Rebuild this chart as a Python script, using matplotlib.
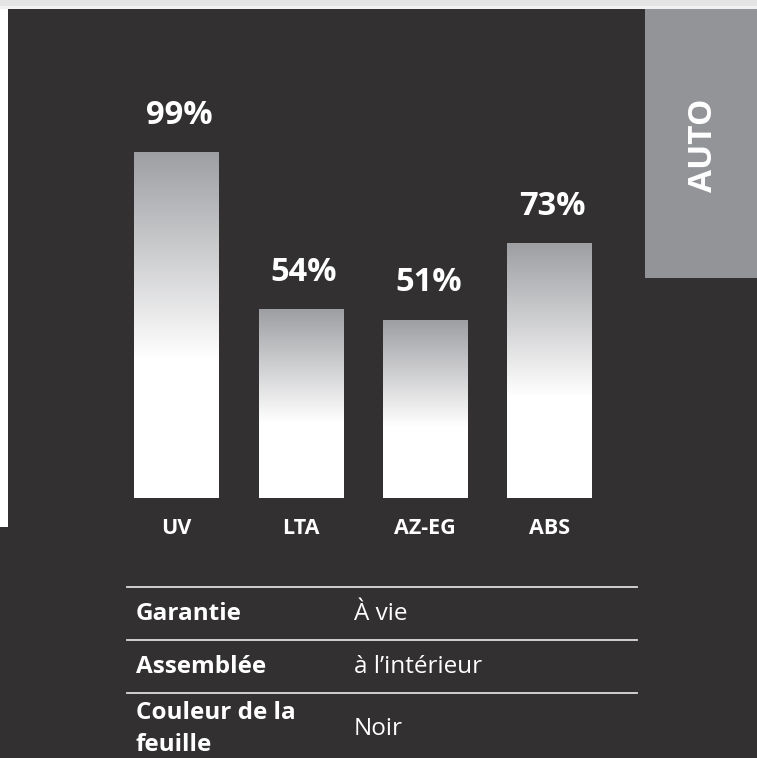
import numpy as np
import matplotlib
matplotlib.use("Agg")
import matplotlib.pyplot as plt
from matplotlib.patches import Rectangle
from matplotlib.lines import Line2D

plt.rcParams['font.family'] = ['Open Sans', 'DejaVu Sans']

categories = ["UV", "LTA", "AZ-EG", "ABS"]
values = [99, 54, 51, 73]
value_labels = ["99%", "54%", "51%", "73%"]
side_label = "AUTO"
table_labels = ["Garantie", "Assemblée", "Couleur de la\nfeuille"]
table_values = ["À vie", "à l’intérieur", "Noir"]

W, H = 757, 758
DARK = "#323031"
fig = plt.figure(figsize=(W / 100, H / 100), dpi=100)
fig.patch.set_facecolor(DARK)

def fx(x):
    return x / W

def fy(y):
    return 1 - y / H

def frect(x0, y0, x1, y1, color, z=0):
    fig.patches.append(Rectangle((fx(x0), fy(y1)), fx(x1) - fx(x0), fy(y0) - fy(y1),
                                 transform=fig.transFigure, facecolor=color,
                                 edgecolor="none", zorder=z))

# frame decorations
frect(0, 0, W, 9, "#f2f2f2")
frect(0, 0, W, 6, "#e3e4e3")
frect(0, 9, 8, 527, "#ffffff")
frect(645, 9, W, 278, "#939498")
fig.text(fx(704), fy(145), side_label, rotation=90, ha="center", va="center",
         color="white", fontsize=24, fontweight="bold")

# bar axes: x=-1 -> px 52, x=4 -> px 673.6 ; y=0 -> px 498, y=110 -> px 114.7
x_left, x_right = 52.0, 673.6
y_bot, y_top = 498.0, 498.0 - 110 * 3.485
ax = fig.add_axes([fx(x_left), fy(y_bot), fx(x_right) - fx(x_left), fy(y_top) - fy(y_bot)])
ax.set_xlim(-1, 4)
ax.set_ylim(0, 110)
ax.patch.set_alpha(0)
for s in ax.spines.values():
    s.set_visible(False)
ax.set_xticks([])
ax.set_yticks([])

bw = 0.676
top_rgb = np.array([0x9e, 0x9f, 0xa3]) / 255.0
white = np.ones(3)
n = 256
f = np.linspace(0, 1, n)  # 0 bottom, 1 top
t = np.clip((f - 0.4) / 0.6, 0, 1)
grad = (white[None, :] * (1 - t[:, None]) + top_rgb[None, :] * t[:, None])
grad_img = grad[::-1][:, None, :]  # row 0 = top

for i, (c, v, lab) in enumerate(zip(categories, values, value_labels)):
    ax.imshow(grad_img, extent=[i - bw / 2, i + bw / 2, 0, v], aspect="auto",
              interpolation="bilinear", zorder=2)
    ax.annotate(lab, (i, v), xytext=(2.5, 27), textcoords="offset points",
                ha="center", va="center", color="white", fontsize=23.5,
                fontweight="bold", annotation_clip=False)
    ax.annotate(c, (i, 0), xytext=(0, -22), textcoords="offset points",
                ha="center", va="center", color="white", fontsize=15.5,
                fontweight="bold", annotation_clip=False)
ax.set_xlim(-1, 4)
ax.set_ylim(0, 110)

# table
line_ys = [586.5, 639.5, 692.5]
for ly in line_ys:
    fig.add_artist(Line2D([fx(127), fx(637)], [fy(ly), fy(ly)], transform=fig.transFigure,
                          color="#dcdcdc", linewidth=1.3))
row_centers = [614, 667, 729]
for lab, val, yc in zip(table_labels, table_values, row_centers):
    fig.text(fx(136), fy(yc), lab, ha="left", va="center", color="white",
             fontsize=17.5, fontweight="bold", linespacing=1.45)
    fig.text(fx(354), fy(yc), val, ha="left", va="center", color="white",
             fontsize=17.5)

fig.savefig("out.png", dpi=100, facecolor=DARK)
